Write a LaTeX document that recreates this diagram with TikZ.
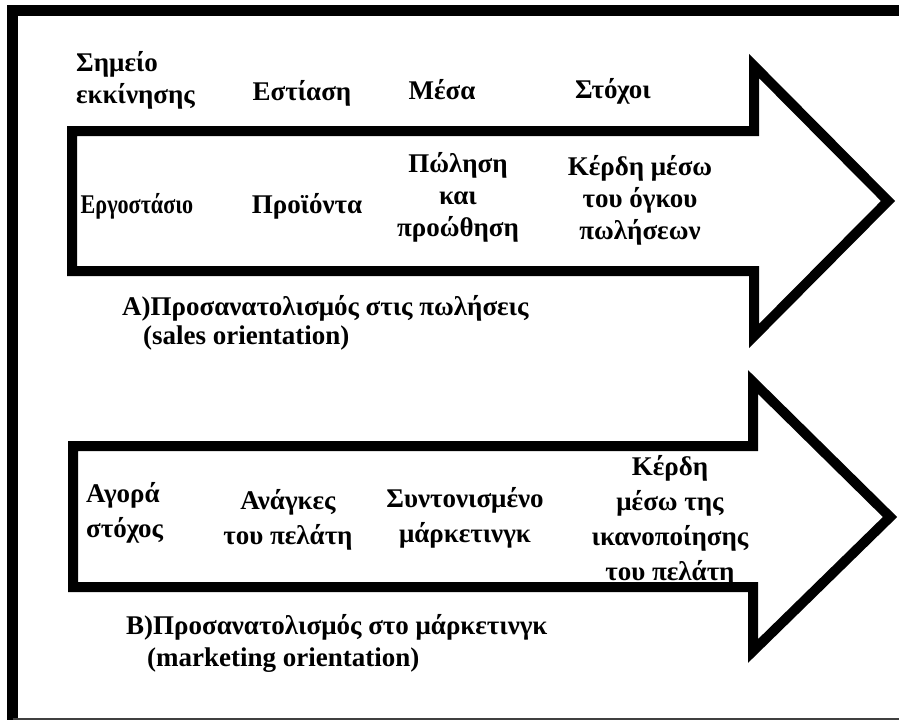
\documentclass[tikz,border=0pt]{standalone}
\usepackage{fontspec}
\setmainfont{Liberation Serif}
\usepackage{xcolor}
\usepackage{graphicx}

\tikzset{
  bigarrow/.style={line width=10pt, line join=miter, miter limit=10},
  lbl/.style={font=\bfseries\fontsize{27}{32}\selectfont, align=center, inner sep=0pt},
  lbltwo/.style={lbl, font=\bfseries\fontsize{27}{35}\selectfont},
}

\begin{document}
\begin{tikzpicture}[x=1pt,y=-1pt]
\useasboundingbox (0,0) rectangle (899,720);
% Draw the frame
\draw[line width=11pt] (899,10.5) -- (12.5,10.5) -- (12.5,720);
\draw[line width=2pt, black!75] (12.5,719) -- (899,719);
% Sales orientation arrow
\draw[bigarrow] (72,131) -- (754,131) -- (754,66) -- (888,201)
  -- (754,336) -- (754,271) -- (72,271) -- cycle;
% Labels above the arrow
\node[lbl, align=left, anchor=west] (start) at (76,80) {Σημείο\\εκκίνησης};
\node[lbl] (focus) at (302,93) {Εστίαση};
\node[lbl] (means) at (442,90) {Μέσα};
\node[lbl] (goals) at (613,91) {Στόχοι};
% Labels inside the arrow
\node[lbl] (factory) at (137,206) {\scalebox{0.82}[1]{Εργοστάσιο}};
\node[lbl] (products) at (307,206) {Προϊόντα};
\node[lbl] (selling) at (458,197) {Πώληση\\και\\προώθηση};
\node[lbl] (volume) at (640,200) {Κέρδη μέσω\\του όγκου\\πωλήσεων};
% Caption
\node[lbl, anchor=west] (capA) at (122,308) {Α)Προσανατολισμός στις πωλήσεις};
\node[lbl, anchor=west] (capAen) at (143,338) {(sales orientation)};
% Marketing orientation arrow
\draw[bigarrow] (73,446) -- (753,446) -- (753,382) -- (890,517)
  -- (753,651) -- (753,587) -- (73,587) -- cycle;
% Labels inside the arrow
\node[lbltwo, align=left, anchor=west] (market) at (86,513) {Αγορά\\στόχος};
\node[lbltwo] (needs) at (288,520) {Ανάγκες\\του πελάτη};
\node[lbltwo] (coord) at (465,518) {Συντονισμένο\\μάρκετινγκ};
\node[lbltwo] (satisf) at (670,521) {Κέρδη\\μέσω της\\ικανοποίησης\\του πελάτη};
% Caption
\node[lbl, anchor=west] (capB) at (126,627) {Β)Προσανατολισμός στο μάρκετινγκ};
\node[lbl, anchor=west] (capBen) at (147,660) {(marketing orientation)};
\end{tikzpicture}
\end{document}
